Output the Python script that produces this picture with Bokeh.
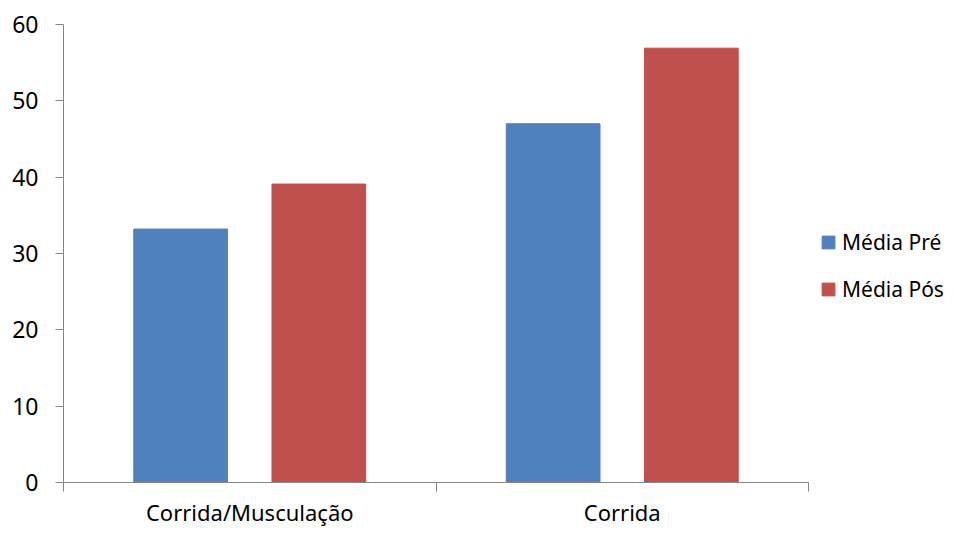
from bokeh.plotting import figure
from bokeh.models import (ColumnDataSource, Range1d, FixedTicker, Legend, LegendItem)
from bokeh.embed import file_html
from bokeh.resources import INLINE

categories = ["Corrida/Musculação", "Corrida"]
series_names = ["Média Pré", "Média Pós"]
media_pre = [33.2, 47.0]
media_pos = [39.1, 56.9]
y_ticks = [0, 10, 20, 30, 40, 50, 60]

colors = ["#4F81BD", "#C0504D"]
FONT = "Noto Sans"
AXIS_COLOR = "#868686"

W, H = 944, 529
LEFT = 63
AXIS_PX = 745          # pixel length of the category axis
n = len(categories)
centers = [i + 0.5 for i in range(n)]
offset = 0.1855
bar_w = 0.2516
x_end = n * (W - LEFT) / AXIS_PX   # frame extends to the right edge; axis bounded to [0, n]

p = figure(width=W, height=H, output_backend="svg", toolbar_location=None,
           x_range=Range1d(0, x_end), y_range=Range1d(0, 60),
           min_border_left=LEFT, min_border_right=0, min_border_top=24, min_border_bottom=0)
p.outline_line_color = None
p.grid.grid_line_color = None
p.background_fill_color = "white"
p.border_fill_color = "white"

src_pre = ColumnDataSource(dict(x=[c - offset for c in centers], top=media_pre))
src_pos = ColumnDataSource(dict(x=[c + offset for c in centers], top=media_pos))
r1 = p.vbar(x="x", top="top", width=bar_w, bottom=0, source=src_pre,
            fill_color=colors[0], line_color=colors[0])
r2 = p.vbar(x="x", top="top", width=bar_w, bottom=0, source=src_pos,
            fill_color=colors[1], line_color=colors[1])

# x axis
xa = p.xaxis[0]
xa.bounds = (0, n)
xa.ticker = FixedTicker(ticks=centers, minor_ticks=list(range(n + 1)))
xa.major_label_overrides = {c: cat for c, cat in zip(centers, categories)}
xa.major_tick_line_color = None
xa.major_tick_out = 0
xa.major_tick_in = 0
xa.minor_tick_line_color = AXIS_COLOR
xa.minor_tick_out = 9
xa.minor_tick_in = 0
xa.axis_line_color = AXIS_COLOR
xa.major_label_text_font = FONT
xa.major_label_text_font_size = "22px"
xa.major_label_text_color = "#000000"
xa.major_label_standoff = 5

# y axis
ya = p.yaxis[0]
ya.ticker = FixedTicker(ticks=y_ticks, minor_ticks=[])
ya.major_tick_out = 8
ya.major_tick_in = 0
ya.major_tick_line_color = AXIS_COLOR
ya.axis_line_color = AXIS_COLOR
ya.minor_tick_line_color = None
ya.major_label_text_font = FONT
ya.major_label_text_font_size = "23px"
ya.major_label_text_color = "#000000"
ya.major_label_standoff = 17

legend = Legend(items=[LegendItem(label=series_names[0], renderers=[r1]),
                       LegendItem(label=series_names[1], renderers=[r2])],
                location=(757, 179))
legend.border_line_color = None
legend.background_fill_alpha = 0
legend.label_text_font = FONT
legend.label_text_font_size = "21px"
legend.label_text_color = "#000000"
legend.glyph_width = 16
legend.glyph_height = 16
legend.label_height = 22
legend.spacing = 19
legend.label_standoff = 6
legend.padding = 0
legend.margin = 0
p.add_layout(legend)

open("out.html", "w").write(file_html(p, INLINE))
